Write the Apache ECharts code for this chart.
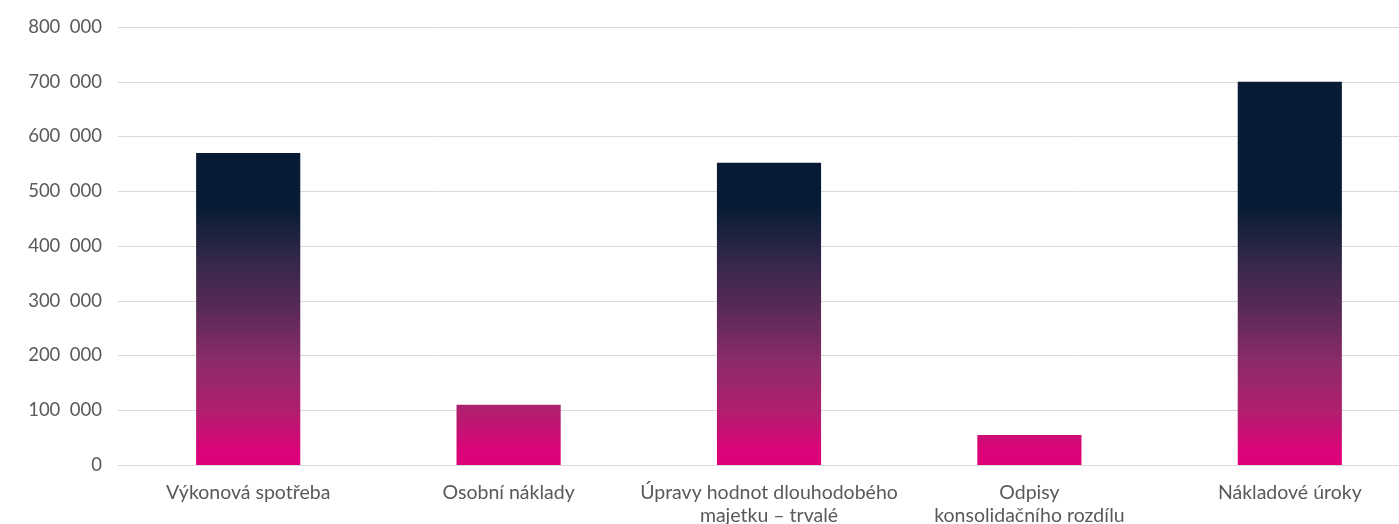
<!DOCTYPE html>
<html>
<head>
<meta charset="utf-8">
<script src="https://cdn.jsdelivr.net/npm/echarts@6/dist/echarts.min.js"></script>
<style>
  html, body { margin: 0; padding: 0; background: #fff; overflow: hidden; }
  #chart { width: 1399px; height: 524px; }
</style>
</head>
<body>
<div id="chart"></div>
<script>
// Cost categories and their amounts
const categories = [
  'Výkonová spotřeba',
  'Osobní náklady',
  'Úpravy hodnot dlouhodobého\nmajetku – trvalé',
  'Odpisy\nkonsolidačního rozdílu',
  'Nákladové úroky'
];
const values = [570000, 110000, 552000, 55000, 700000];

// Value axis range
const axisMin = 0;
const axisMax = 800000;
const axisStep = 100000;

const FONT = 'Lato';
const chart = echarts.init(document.getElementById('chart'), null, { width: 1399, height: 524 });

function fmt(v) {
  if (v === 0) return '0';
  const s = String(v);
  return s.slice(0, s.length - 3) + '  ' + s.slice(-3);
}

const option = {
  animation: false,
  backgroundColor: '#ffffff',
  grid: {
    left: 118, top: 27, width: 1302, height: 438,
    containLabel: false, outerBoundsMode: 'none'
  },
  xAxis: {
    type: 'category',
    data: categories,
    axisTick: { show: false },
    axisLine: { show: true, lineStyle: { color: '#d9d9d9', width: 1 } },
    axisLabel: {
      color: '#595959', fontFamily: FONT, fontSize: 19.5, lineHeight: 23,
      margin: 16, interval: 0
    }
  },
  yAxis: {
    type: 'value',
    min: axisMin, max: axisMax, interval: axisStep,
    axisLine: { show: false },
    axisTick: { show: false },
    splitLine: { lineStyle: { color: '#d9d9d9', width: 1 } },
    axisLabel: {
      color: '#595959', fontFamily: FONT, fontSize: 18.5, margin: 16,
      formatter: fmt
    }
  },
  series: [{
    type: 'bar',
    data: values,
    barWidth: '40%',
    itemStyle: { color: '#e0007a' }
  }]
};
chart.setOption(option);

// One gradient shared by all bars, anchored to the value axis in pixels
const yBottom = chart.convertToPixel({ yAxisIndex: 0 }, 0);
const yTop = chart.convertToPixel({ yAxisIndex: 0 }, 470000);
chart.setOption({
  series: [{
    itemStyle: {
      color: new echarts.graphic.LinearGradient(0, yTop, 0, yBottom, [
        { offset: 0, color: '#071c34' },
        { offset: 0.2, color: '#33274a' },
        { offset: 0.4, color: '#5a2a58' },
        { offset: 0.59, color: '#8a2b67' },
        { offset: 0.79, color: '#b01f6e' },
        { offset: 0.94, color: '#da0479' },
        { offset: 1, color: '#e0007a' }
      ], true)
    }
  }]
});
</script>
</body>
</html>
